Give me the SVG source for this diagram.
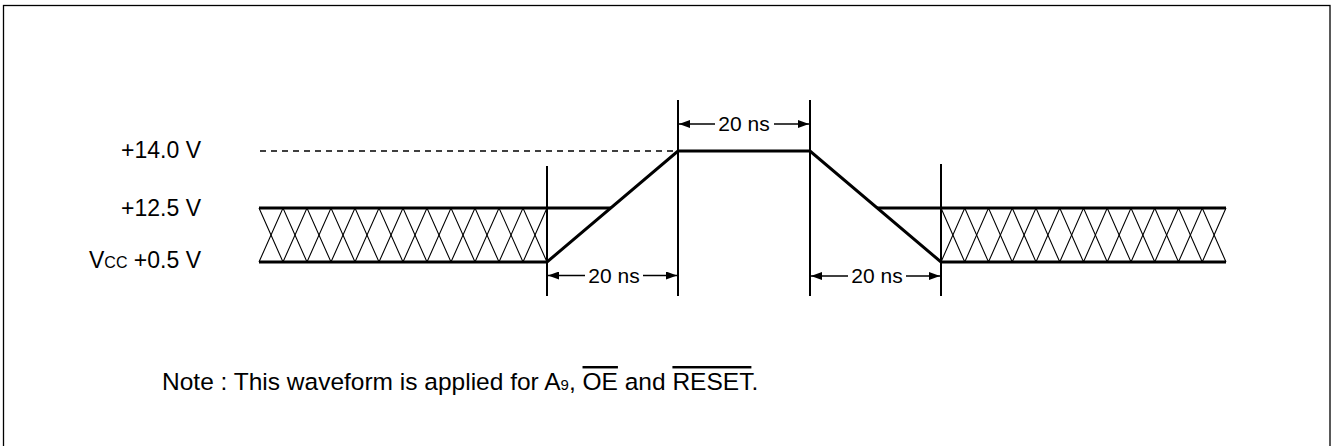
<svg xmlns="http://www.w3.org/2000/svg" width="1338" height="446" viewBox="0 0 1338 446">
<style>
  text { font-family: "Liberation Sans", Arial, sans-serif; fill: #000; }
  .lbl { font-size: 23px; text-anchor: end; }
  .dim { font-size: 21px; text-anchor: middle; }
  .note { font-size: 24.5px; }
  .wave { fill: none; stroke: #000; stroke-width: 3; stroke-linejoin: miter; }
  .hatch { fill: none; stroke: #000; stroke-width: 1.1; }
  .vline { stroke: #000; stroke-width: 2; }
  .arr { stroke: #000; stroke-width: 1.6; marker-end: url(#ah); }
  .dash { stroke: #000; stroke-width: 1.5; stroke-dasharray: 6 5; }
</style>
<defs>
  <marker id="ah" markerUnits="userSpaceOnUse" markerWidth="12" markerHeight="8" refX="11" refY="4" orient="auto">
    <path d="M0,0 L11,4 L0,8 z" fill="#000"/>
  </marker>
</defs>
<rect x="3.5" y="5.5" width="1326.5" height="470" fill="none" stroke="#000" stroke-width="1.3"/>

<g id="labels">
  <text class="lbl" x="201" y="158">+14.0 V</text>
  <text class="lbl" x="201" y="216">+12.5 V</text>
  <text class="lbl" x="201" y="268">V<tspan font-size="16">CC</tspan> +0.5 V</text>
</g>

<g id="waveform">
  <line class="dash" x1="260" y1="151" x2="678" y2="151"/>
  <polyline class="hatch" points="259,208 283,262 307,208 331,262 355,208 379,262 403,208 427,262 451,208 475,262 499,208 523,262 547,208"/>
  <polyline class="hatch" points="259,262 283,208 307,262 331,208 355,262 379,208 403,262 427,208 451,262 475,208 499,262 523,208 547,262"/>
  <polyline class="hatch" points="941,208 964.75,262 988.5,208 1012.25,262 1036,208 1059.75,262 1083.5,208 1107.25,262 1131,208 1154.75,262 1178.5,208 1202.25,262 1226,208"/>
  <polyline class="hatch" points="941,262 964.75,208 988.5,262 1012.25,208 1036,262 1059.75,208 1083.5,262 1107.25,208 1131,262 1154.75,208 1178.5,262 1202.25,208 1226,262"/>
  <line class="wave" x1="259" y1="208" x2="611" y2="208"/>
  <polyline class="wave" points="259,262 547,262 678,151 810,151 941,262 1226,262"/>
  <line class="wave" x1="877" y1="208" x2="1226" y2="208"/>
</g>

<g id="connectors">
  <line class="vline" x1="547" y1="166" x2="547" y2="296"/>
  <line class="vline" x1="678" y1="100" x2="678" y2="296"/>
  <line class="vline" x1="810" y1="100" x2="810" y2="296"/>
  <line class="vline" x1="941" y1="164" x2="941" y2="296"/>
  <line class="arr" x1="715" y1="124" x2="679" y2="124"/>
  <line class="arr" x1="774" y1="124" x2="809" y2="124"/>
  <line class="arr" x1="585" y1="275.5" x2="548" y2="275.5"/>
  <line class="arr" x1="643" y1="275.5" x2="677" y2="275.5"/>
  <line class="arr" x1="848" y1="276" x2="811" y2="276"/>
  <line class="arr" x1="906" y1="276" x2="940" y2="276"/>
</g>

<g id="dims">
  <text class="dim" x="744" y="131">20 ns</text>
  <text class="dim" x="614" y="283">20 ns</text>
  <text class="dim" x="877" y="283">20 ns</text>
</g>

<g id="note">
  <text class="note" x="162" y="390">Note : This waveform is applied for A<tspan font-size="15">9</tspan>, <tspan text-decoration="overline">OE</tspan> and <tspan text-decoration="overline">RESET</tspan>.</text>
</g>
</svg>
